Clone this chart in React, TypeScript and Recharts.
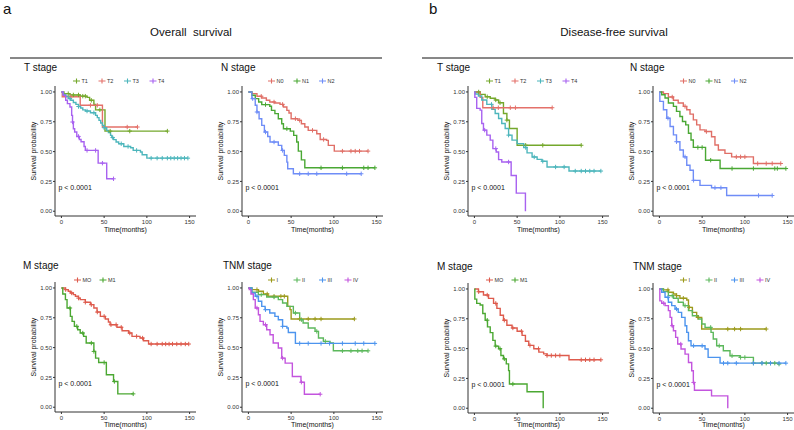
import React from 'react';
import { LineChart, Line, XAxis, YAxis } from 'recharts';

type Pt = [number, number];

// Kaplan-Meier steps: [time (months), survival prob] — each point starts a new level.
// Censor marks are listed as times; their height comes from the step the curve is on.

// ---- a: Overall survival ----
const osT1: Pt[] = [[0, 1], [3, 0.986], [10, 0.975], [22, 0.965], [30, 0.955], [33, 0.93], [38, 0.895], [40, 0.85], [51, 0.672]];
const osT1Cens = [8, 14, 20, 25, 28, 35, 45, 57, 80, 124];
const osT2: Pt[] = [[0, 1], [1, 0.96], [22, 0.888], [48, 0.706]];
const osT2Cens = [11, 34, 42, 77, 89];
const osT3: Pt[] = [[0, 1], [2, 0.98], [5, 0.964], [8, 0.945], [11, 0.93], [14, 0.912], [17, 0.896], [20, 0.878], [22.5, 0.866], [25, 0.85], [28, 0.84], [34, 0.826], [40, 0.804], [42, 0.785], [44, 0.762], [46, 0.74], [48, 0.72], [50, 0.7], [53, 0.678], [55, 0.66], [57.5, 0.636], [59, 0.618], [61, 0.6], [64, 0.58], [67, 0.566], [73, 0.543], [81, 0.532], [84, 0.51], [92.5, 0.496], [94.5, 0.473], [100, 0.445]];
const osT3Cens = [10, 20, 30, 38, 50, 60, 70, 78, 88, 105, 112, 118, 124, 128, 132, 136, 140, 144, 148];
const osT4: Pt[] = [[0, 1], [2, 0.972], [5, 0.93], [7, 0.902], [10, 0.874], [12, 0.804], [13, 0.748], [14, 0.692], [15.5, 0.664], [18, 0.627], [21, 0.602], [23, 0.583], [26.5, 0.543], [28, 0.51], [43, 0.403], [53, 0.272]];
const osT4Cens = [13, 20, 30, 40, 48, 61];

const osN0: Pt[] = [[0, 1], [4, 0.986], [10, 0.964], [15.6, 0.95], [21, 0.93], [25, 0.916], [31, 0.908], [37, 0.896], [41, 0.874], [45, 0.846], [47.5, 0.824], [50, 0.776], [58, 0.762], [62, 0.734], [66, 0.706], [70, 0.678], [80, 0.65], [84, 0.602], [91.5, 0.594], [93.5, 0.552], [100.5, 0.504]];
const osN0Cens = [15, 30, 40, 55, 60, 75, 88, 110, 120, 125, 130, 140];
const osN1: Pt[] = [[0, 1], [4, 0.972], [8, 0.944], [12, 0.916], [15.6, 0.894], [25, 0.88], [27, 0.846], [31, 0.818], [35, 0.776], [39, 0.734], [41, 0.692], [49, 0.672], [53, 0.636], [56.5, 0.58], [58.4, 0.504], [62, 0.431], [66, 0.364]];
const osN1Cens = [20, 45, 85, 110, 135, 140, 148];
const osN2: Pt[] = [[0, 1], [4, 0.944], [8, 0.888], [10, 0.832], [12.5, 0.776], [15.6, 0.72], [18.7, 0.664], [22.6, 0.627], [25.3, 0.58], [35, 0.552], [39, 0.51], [42, 0.468], [45, 0.412], [46, 0.356], [52.6, 0.314]];
const osN2Cens = [5, 10, 20, 30, 40, 60, 70, 80, 115, 132];

const osM0: Pt[] = [[0, 1], [4.7, 0.986], [8, 0.972], [10.5, 0.958], [14, 0.944], [16.4, 0.93], [20, 0.915], [22, 0.902], [28, 0.88], [34, 0.86], [38, 0.832], [41.7, 0.798], [45.6, 0.762], [51.4, 0.74], [55, 0.715], [57, 0.692], [65, 0.67], [71, 0.641], [78.7, 0.622], [82.6, 0.594], [92, 0.58], [96, 0.557], [102, 0.53]];
const osM0Cens = [5, 12, 20, 28, 35, 42, 50, 58, 64, 70, 80, 88, 95, 105, 112, 118, 122, 126, 130, 135, 140, 145, 149];
const osM1: Pt[] = [[0, 1], [1.6, 0.95], [4.7, 0.902], [6.6, 0.832], [10.5, 0.762], [12.5, 0.72], [15.2, 0.678], [19, 0.65], [22, 0.622], [26, 0.594], [29, 0.538], [38, 0.468], [40, 0.412], [43.6, 0.375], [52.6, 0.272], [61, 0.216], [66, 0.112]];
const osM1Cens = [10, 18, 25, 35, 38, 50, 62, 84];

const osI: Pt[] = [[0, 1], [4, 0.986], [11.7, 0.972], [17.5, 0.95], [23, 0.93], [46, 0.846], [48.7, 0.818], [50, 0.74]];
const osICens = [10, 22, 30, 38, 42, 60, 70, 78, 85, 124];
const osII: Pt[] = [[0, 1], [4, 0.964], [11.7, 0.944], [21.4, 0.924], [35, 0.902], [40, 0.874], [45, 0.846], [52.6, 0.79], [60, 0.734], [64, 0.706], [70, 0.664], [78, 0.636], [82, 0.58], [87.7, 0.552], [95.5, 0.538], [99.4, 0.473]];
const osIICens = [15, 30, 55, 62, 80, 90, 110, 120, 128, 133, 140];
const osIII: Pt[] = [[0, 1], [4, 0.958], [8, 0.93], [11.7, 0.888], [15.6, 0.846], [19.5, 0.818], [25, 0.79], [31, 0.762], [35, 0.734], [40, 0.678], [45, 0.664], [46.7, 0.627], [55, 0.535]];
const osIIICens = [10, 20, 40, 60, 70, 85, 95, 110, 125, 135, 148];
const osIV: Pt[] = [[0, 1], [1, 0.986], [3, 0.95], [5.8, 0.902], [8, 0.832], [11.7, 0.776], [13.6, 0.72], [17.5, 0.692], [21.4, 0.65], [25.3, 0.608], [29, 0.538], [35, 0.496], [39, 0.412], [43, 0.37], [51.4, 0.258], [61.5, 0.21], [65.5, 0.109]];
const osIVCens = [10, 20, 40, 62, 84];

// ---- b: Disease-free survival ----
const dfsT1: Pt[] = [[0, 1], [6.7, 0.98], [12.6, 0.96], [18.5, 0.947], [24.3, 0.933], [28.3, 0.91], [34, 0.82], [38, 0.764], [41, 0.694], [50, 0.553]];
const dfsT1Cens = [5, 15, 25, 30, 38, 60, 80, 125];
const dfsT2: Pt[] = [[0, 1], [6.7, 0.955], [9.8, 0.868]];
const dfsT2Cens = [22, 28, 42, 48, 91];
const dfsT3: Pt[] = [[0, 1], [1, 0.983], [4.7, 0.966], [8.6, 0.933], [14.5, 0.896], [20.4, 0.854], [24.3, 0.82], [28.3, 0.778], [32, 0.736], [36, 0.694], [40, 0.638], [44, 0.596], [50, 0.567], [57.7, 0.534], [61.6, 0.489], [67.5, 0.455], [73.4, 0.435], [79, 0.419], [85, 0.371], [110.7, 0.337]];
const dfsT3Cens = [20, 40, 60, 70, 80, 95, 105, 118, 125, 130, 135, 140, 148];
const dfsT4: Pt[] = [[0, 1], [0.5, 0.955], [2.7, 0.862], [6.7, 0.848], [8.6, 0.736], [10.6, 0.68], [14.5, 0.638], [18.5, 0.596], [21.6, 0.525], [25.5, 0.497], [28.3, 0.433], [32, 0.413], [43, 0.3], [49, 0.152], [59.7, 0]];
const dfsT4Cens = [12, 25, 40];

const dfsN0: Pt[] = [[0, 1], [4.7, 0.986], [10.5, 0.958], [16.4, 0.93], [22, 0.907], [28, 0.879], [32, 0.851], [35.8, 0.814], [39.7, 0.766], [43.6, 0.724], [47.5, 0.682], [53.4, 0.668], [61, 0.625], [65, 0.555], [69, 0.513], [76.7, 0.485], [84.5, 0.456], [110, 0.4]];
const dfsN0Cens = [15, 30, 55, 90, 95, 100, 115, 125, 132, 142];
const dfsN1: Pt[] = [[0, 1], [2.7, 0.977], [6.6, 0.949], [10.5, 0.907], [16.4, 0.879], [20, 0.837], [24, 0.794], [27, 0.752], [30.8, 0.724], [34, 0.654], [37, 0.597], [39.7, 0.535], [54, 0.428], [71, 0.358]];
const dfsN1Cens = [45, 50, 60, 85, 110, 135, 138, 148];
const dfsN2: Pt[] = [[0, 1], [0.5, 0.921], [4.7, 0.851], [8.6, 0.78], [12.5, 0.71], [16.4, 0.64], [20, 0.583], [24, 0.513], [28, 0.456], [32, 0.386], [35.8, 0.344], [39.7, 0.259], [47.5, 0.217], [61, 0.197], [78.7, 0.132]];
const dfsN2Cens = [10, 20, 30, 40, 65, 72, 116, 132];

const dfsM0: Pt[] = [[0, 1], [4.7, 0.977], [10.6, 0.949], [16.5, 0.921], [22.4, 0.879], [26.3, 0.837], [30.2, 0.78], [34, 0.738], [38, 0.696], [44, 0.673], [50, 0.645], [55.8, 0.611], [59.7, 0.561], [63.6, 0.527], [69.5, 0.499], [75.4, 0.47], [81, 0.456], [85, 0.442], [110.7, 0.406]];
const dfsM0Cens = [5, 15, 25, 35, 45, 55, 65, 75, 85, 90, 95, 100, 125, 130, 135, 140, 148];
const dfsM1: Pt[] = [[0, 1], [0.5, 0.915], [2.7, 0.879], [6.7, 0.865], [9.8, 0.794], [12.6, 0.738], [15.3, 0.682], [18.5, 0.634], [21.6, 0.569], [24.3, 0.521], [28.3, 0.499], [31, 0.442], [34, 0.414], [37.3, 0.372], [40, 0.315], [41, 0.203], [61.6, 0.138], [80.5, 0]];
const dfsM1Cens = [15, 25, 30, 35, 45];

const dfsI: Pt[] = [[0, 1], [4.7, 0.992], [10.5, 0.972], [16.4, 0.958], [20, 0.944], [24, 0.922], [32, 0.908], [34, 0.846], [38.6, 0.804], [43.6, 0.762], [49.5, 0.664]];
const dfsICens = [10, 20, 28, 35, 45, 80, 88, 95, 125];
const dfsII: Pt[] = [[0, 1], [4.7, 0.978], [10.5, 0.944], [16.4, 0.922], [22, 0.888], [28, 0.86], [34, 0.818], [38.6, 0.776], [45.6, 0.748], [49.5, 0.706], [53.4, 0.678], [60.4, 0.636], [63, 0.58], [67, 0.524], [74.8, 0.482], [82.6, 0.44], [94.3, 0.426], [110, 0.378], [139, 0.37]];
const dfsIICens = [15, 30, 60, 70, 85, 95, 100, 110, 120, 125, 130, 135, 140];
const dfsIII: Pt[] = [[0, 1], [2.7, 0.972], [6.6, 0.93], [10.5, 0.888], [14.4, 0.86], [18.3, 0.832], [22, 0.804], [26, 0.762], [30, 0.692], [32, 0.636], [34, 0.566], [37, 0.524], [53.4, 0.496], [57, 0.426], [71, 0.378]];
const dfsIIICens = [10, 20, 40, 50, 75, 80, 90, 110, 120, 130, 140, 148];
const dfsIV: Pt[] = [[0, 1], [0.5, 0.9], [2.7, 0.88], [6.6, 0.86], [10.5, 0.818], [12.5, 0.762], [14.4, 0.692], [16.4, 0.65], [19, 0.594], [21.4, 0.538], [25.3, 0.496], [30, 0.454], [34, 0.384], [37.8, 0.314], [39.7, 0.216], [41, 0.151], [61, 0.104], [80, 0]];
const dfsIVCens = [5, 15, 25, 40];

const xTicks = [0, 50, 100, 150];
const yTicks = [0, 0.25, 0.5, 0.75, 1];

const FONT = '"Liberation Sans", Arial, Helvetica, sans-serif';
const AXIS = '#333333';

const C = {
  t1: '#74A82C', t2: '#E4716A', t3: '#4DB6BC', t4: '#A862F0',
  n0: '#E06F67', n1: '#4AA834', n2: '#6F8DF7',
  m0: '#DE5B4D', m1: '#4BA832',
  i: '#9C9A1C', ii: '#5CB85C', iii: '#4C94EE', iv: '#C355DE',
};

interface Curve { name: string; color: string; steps: Pt[]; cens: number[] }
interface Panel {
  id: string; title: string;
  x: number; y: number;            // top-left of plot box
  titleX: number; titleY: number;
  legendX: number; legendY: number;
  xLabDy: number;
  curves: Curve[];
}

// plot box size (includes ggplot's 5% axis expansion)
const PW = 141;
const PH = 130;
const X_DOM: [number, number] = [-7.5, 157.5];
const Y_DOM: [number, number] = [-0.04, 1.05];

function survAt(steps: Pt[], t: number): number {
  let s = steps[0][1];
  for (const [tt, v] of steps) if (tt <= t) s = v;
  return s;
}

function buildRows(c: Curve) {
  const times = Array.from(new Set([...c.steps.map((p) => p[0]), ...c.cens])).sort((a, b) => a - b);
  return times.map((t) => ({ t, s: survAt(c.steps, t), c: c.cens.includes(t) }));
}

const tStage = (a: boolean): Curve[] => [
  { name: 'T1', color: C.t1, steps: a ? osT1 : dfsT1, cens: a ? osT1Cens : dfsT1Cens },
  { name: 'T2', color: C.t2, steps: a ? osT2 : dfsT2, cens: a ? osT2Cens : dfsT2Cens },
  { name: 'T3', color: C.t3, steps: a ? osT3 : dfsT3, cens: a ? osT3Cens : dfsT3Cens },
  { name: 'T4', color: C.t4, steps: a ? osT4 : dfsT4, cens: a ? osT4Cens : dfsT4Cens },
];
const nStage = (a: boolean): Curve[] => [
  { name: 'N0', color: C.n0, steps: a ? osN0 : dfsN0, cens: a ? osN0Cens : dfsN0Cens },
  { name: 'N1', color: C.n1, steps: a ? osN1 : dfsN1, cens: a ? osN1Cens : dfsN1Cens },
  { name: 'N2', color: C.n2, steps: a ? osN2 : dfsN2, cens: a ? osN2Cens : dfsN2Cens },
];
const mStage = (a: boolean): Curve[] => [
  { name: 'MO', color: C.m0, steps: a ? osM0 : dfsM0, cens: a ? osM0Cens : dfsM0Cens },
  { name: 'M1', color: C.m1, steps: a ? osM1 : dfsM1, cens: a ? osM1Cens : dfsM1Cens },
];
const tnmStage = (a: boolean): Curve[] => [
  { name: 'I', color: C.i, steps: a ? osI : dfsI, cens: a ? osICens : dfsICens },
  { name: 'II', color: C.ii, steps: a ? osII : dfsII, cens: a ? osIICens : dfsIICens },
  { name: 'III', color: C.iii, steps: a ? osIII : dfsIII, cens: a ? osIIICens : dfsIIICens },
  { name: 'IV', color: C.iv, steps: a ? osIV : dfsIV, cens: a ? osIVCens : dfsIVCens },
];

const panels: Panel[] = [
  { id: 'aT', title: 'T stage', x: 55, y: 86, titleX: 24, titleY: 67, legendX: 73, legendY: 81, xLabDy: 13.5, curves: tStage(true) },
  { id: 'aN', title: 'N stage', x: 242, y: 86, titleX: 221, titleY: 67, legendX: 268, legendY: 81, xLabDy: 13.5, curves: nStage(true) },
  { id: 'aM', title: 'M stage', x: 55, y: 282, titleX: 23, titleY: 265, legendX: 74, legendY: 280, xLabDy: 12, curves: mStage(true) },
  { id: 'aTNM', title: 'TNM stage', x: 242, y: 282, titleX: 223, titleY: 265, legendX: 268, legendY: 280, xLabDy: 12, curves: tnmStage(true) },
  { id: 'bT', title: 'T stage', x: 468, y: 86, titleX: 437, titleY: 67, legendX: 486, legendY: 81, xLabDy: 13.5, curves: tStage(false) },
  { id: 'bN', title: 'N stage', x: 653, y: 86, titleX: 630, titleY: 67, legendX: 680, legendY: 81, xLabDy: 13.5, curves: nStage(false) },
  { id: 'bM', title: 'M stage', x: 468, y: 283, titleX: 437, titleY: 266, legendX: 486, legendY: 280, xLabDy: 11.5, curves: mStage(false) },
  { id: 'bTNM', title: 'TNM stage', x: 653, y: 283, titleX: 633, titleY: 266, legendX: 680, legendY: 280, xLabDy: 11.5, curves: tnmStage(false) },
];

const tickStyle = { fontSize: 6, fill: AXIS, fontFamily: FONT };

function censorDot(c: Curve, panelId: string) {
  return (props: any) => {
    const { cx, cy, payload, index } = props;
    const key = `${panelId}-${c.name}-${index}`;
    if (!payload || !payload.c) return <g key={key} />;
    return (
      <path
        key={key}
        d={`M${cx - 2.2},${cy}h4.4M${cx},${cy - 2.2}v4.4`}
        stroke={c.color}
        strokeWidth={1}
        fill="none"
      />
    );
  };
}

function KMPanel({ p }: { p: Panel }) {
  const ML = 40, MT = 4, MB = 18, MR = 6;
  return (
    <div style={{ position: 'absolute', left: p.x - ML, top: p.y - MT }}>
      <LineChart width={ML + PW + MR} height={MT + PH + MB} margin={{ top: MT, right: MR, left: 0, bottom: 0 }}>
        <XAxis
          dataKey="t"
          type="number"
          domain={X_DOM}
          ticks={xTicks}
          allowDataOverflow
          interval={0}
          height={MB}
          tickSize={2}
          tickMargin={1.5}
          stroke={AXIS}
          tick={tickStyle}
        />
        <YAxis
          type="number"
          domain={Y_DOM}
          ticks={yTicks}
          allowDataOverflow
          interval={0}
          width={ML}
          tickSize={2}
          tickMargin={1}
          stroke={AXIS}
          tick={tickStyle}
          tickFormatter={(v: number) => v.toFixed(2)}
        />
        {p.curves.map((c) => (
          <Line
            key={c.name}
            data={buildRows(c)}
            dataKey="s"
            type="stepAfter"
            stroke={c.color}
            strokeWidth={1.4}
            dot={censorDot(c, p.id)}
            activeDot={false}
            isAnimationActive={false}
          />
        ))}
      </LineChart>
    </div>
  );
}

function PanelText({ p }: { p: Panel }) {
  return (
    <g fontFamily={FONT}>
      <text x={p.titleX} y={p.titleY} fontSize={10} fill="#111" dominantBaseline="central">{p.title}</text>
      {p.curves.map((c, i) => {
        const lx = p.legendX + i * 25.5;
        return (
          <g key={c.name}>
            <path d={`M${lx},${p.legendY}h7M${lx + 3.5},${p.legendY - 2.5}v5`} stroke={c.color} strokeWidth={1.1} fill="none" />
            <text x={lx + 8.5} y={p.legendY} fontSize={5.5} fill="#333" dominantBaseline="central">{c.name}</text>
          </g>
        );
      })}
      <text
        x={p.x - 21.5}
        y={p.y + PH / 2}
        fontSize={7}
        fill="#111"
        textAnchor="middle"
        dominantBaseline="central"
        transform={`rotate(-90 ${p.x - 21.5} ${p.y + PH / 2})`}
      >
        Survival probability
      </text>
      <text x={p.x + PW / 2} y={p.y + PH + p.xLabDy} fontSize={7} fill="#111" textAnchor="middle" dominantBaseline="central">
        Time(months)
      </text>
      <text x={p.x + 3.5} y={p.y + 101} fontSize={7} fill="#111" dominantBaseline="central">p &lt; 0.0001</text>
    </g>
  );
}

export default function App() {
  return (
    <div style={{ position: 'absolute', left: 0, top: 0, width: 794, height: 430, background: '#fff', overflow: 'hidden' }}>
      {panels.map((p) => <KMPanel key={p.id} p={p} />)}
      <svg width={794} height={430} style={{ position: 'absolute', left: 0, top: 0, pointerEvents: 'none' }}>
        <g fontFamily={FONT} fill="#111">
          <text x={3} y={8} fontSize={15} dominantBaseline="central">a</text>
          <text x={429} y={8} fontSize={15} dominantBaseline="central">b</text>
          <text x={191} y={32} fontSize={11.5} textAnchor="middle" dominantBaseline="central" style={{ whiteSpace: 'pre' }}>Overall  survival</text>
          <text x={614} y={32} fontSize={11.5} textAnchor="middle" dominantBaseline="central">Disease-free survival</text>
        </g>
        <line x1={10} y1={58} x2={382} y2={58} stroke="#111" strokeWidth={1} />
        <line x1={422} y1={58} x2={793} y2={58} stroke="#111" strokeWidth={1} />
        {panels.map((p) => <PanelText key={p.id} p={p} />)}
      </svg>
    </div>
  );
}
